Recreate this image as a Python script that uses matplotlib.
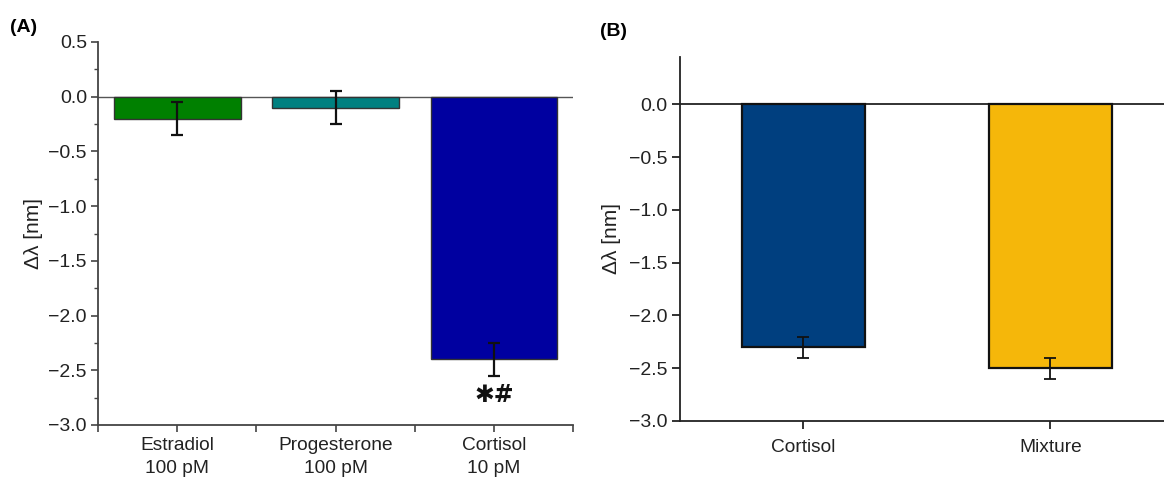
import matplotlib
matplotlib.use("Agg")
import matplotlib.pyplot as plt
from matplotlib.ticker import MultipleLocator, FixedLocator
import numpy as np

plt.rcParams["font.family"] = ["Liberation Sans", "DejaVu Sans"]

# Panel A data
a_labels = ["Estradiol\n100 pM", "Progesterone\n100 pM", "Cortisol\n10 pM"]
a_values = [-0.2, -0.1, -2.4]
a_errors = [0.15, 0.15, 0.15]
a_colors = ["#008000", "#008080", "#0000A0"]
a_mark = "\u2731#"
a_mark_y = -2.73

# Panel B data
b_labels = ["Cortisol", "Mixture"]
b_values = [-2.3, -2.5]
b_errors = [0.1, 0.1]
b_colors = ["#003F7F", "#F5B70A"]

W, H = 1164, 482
fig = plt.figure(figsize=(W / 100, H / 100), dpi=100)

axA = fig.add_axes([98 / W, 1 - 425 / H, (573 - 98) / W, (425 - 42) / H])
axB = fig.add_axes([680 / W, 1 - 421 / H, (1164 - 680) / W, (421 - 57) / H])


def fmt(v):
    return "0.0" if abs(v) < 1e-9 else f"{v:.1f}".replace("-", "\u2212")


# ---- Panel A ----
xa = np.arange(1, len(a_values) + 1)
axA.bar(xa, a_values, width=0.8, color=a_colors, edgecolor="#333333",
        linewidth=1.0, zorder=2)
axA.errorbar(xa, a_values, yerr=a_errors, fmt="none", ecolor="#111111",
             elinewidth=1.6, capsize=4.5, capthick=1.6, zorder=3)
axA.axhline(0, color="#555555", linewidth=1.0, zorder=1)
axA.text(xa[2], a_mark_y, a_mark, ha="center", va="center",
         fontsize=17, fontweight="bold", color="#111111",
         family=["DejaVu Sans"])
axA.set_xlim(0.5, 3.5)
axA.set_ylim(-3.0, 0.5)
axA.set_xticks(xa)
axA.set_xticklabels(a_labels, fontsize=13.8, color="#222222", linespacing=1.45)
axA.xaxis.set_minor_locator(FixedLocator([0.5, 1.5, 2.5, 3.5]))
a_ticks = np.arange(-3.0, 0.51, 0.5)
axA.set_yticks(a_ticks)
axA.set_yticklabels([fmt(v) for v in a_ticks])
axA.yaxis.set_minor_locator(MultipleLocator(0.25))
axA.tick_params(axis="y", labelsize=14, colors="#444444", labelcolor="#222222",
                length=5, width=1.2, direction="out", pad=3)
axA.tick_params(axis="y", which="minor", length=3, width=1.0, colors="#444444")
axA.tick_params(axis="x", which="both", length=5, width=1.2, colors="#444444",
                labelcolor="#222222")
for s in ["top", "right"]:
    axA.spines[s].set_visible(False)
for s in ["left", "bottom"]:
    axA.spines[s].set_color("#444444")
    axA.spines[s].set_linewidth(1.3)
axA.set_ylabel("\u0394\u03bb [nm]", fontsize=15, color="#222222", labelpad=4)

# ---- Panel B ----
xb = np.arange(1, len(b_values) + 1)
axB.bar(xb, b_values, width=0.5, color=b_colors, edgecolor="#111111",
        linewidth=1.6, zorder=2)
axB.errorbar(xb, b_values, yerr=b_errors, fmt="none", ecolor="#111111",
             elinewidth=1.3, capsize=4, capthick=1.3, zorder=3)
axB.axhline(0, color="#222222", linewidth=1.3, zorder=1)
axB.set_xlim(0.5, 2.46)
axB.set_ylim(-3.0, 0.45)
axB.set_xticks(xb)
axB.set_xticklabels(b_labels, fontsize=13.8, color="#222222")
b_ticks = np.arange(-3.0, 0.01, 0.5)
axB.set_yticks(b_ticks)
axB.set_yticklabels([fmt(v) for v in b_ticks])
axB.tick_params(axis="both", labelsize=14, colors="#222222", length=6,
                width=1.3, direction="out", pad=3)
axB.tick_params(axis="x", labelsize=13.8, pad=7)
for s in ["top", "right"]:
    axB.spines[s].set_visible(False)
for s in ["left", "bottom"]:
    axB.spines[s].set_color("#222222")
    axB.spines[s].set_linewidth(1.3)
axB.set_ylabel("\u0394\u03bb [nm]", fontsize=15, color="#222222", labelpad=6)

fig.text(10 / W, 1 - 27 / H, "(A)", fontsize=14, fontweight="bold", va="center")
fig.text(600 / W, 1 - 32 / H, "(B)", fontsize=14, fontweight="bold", va="center")

fig.savefig("out.png", dpi=100)
